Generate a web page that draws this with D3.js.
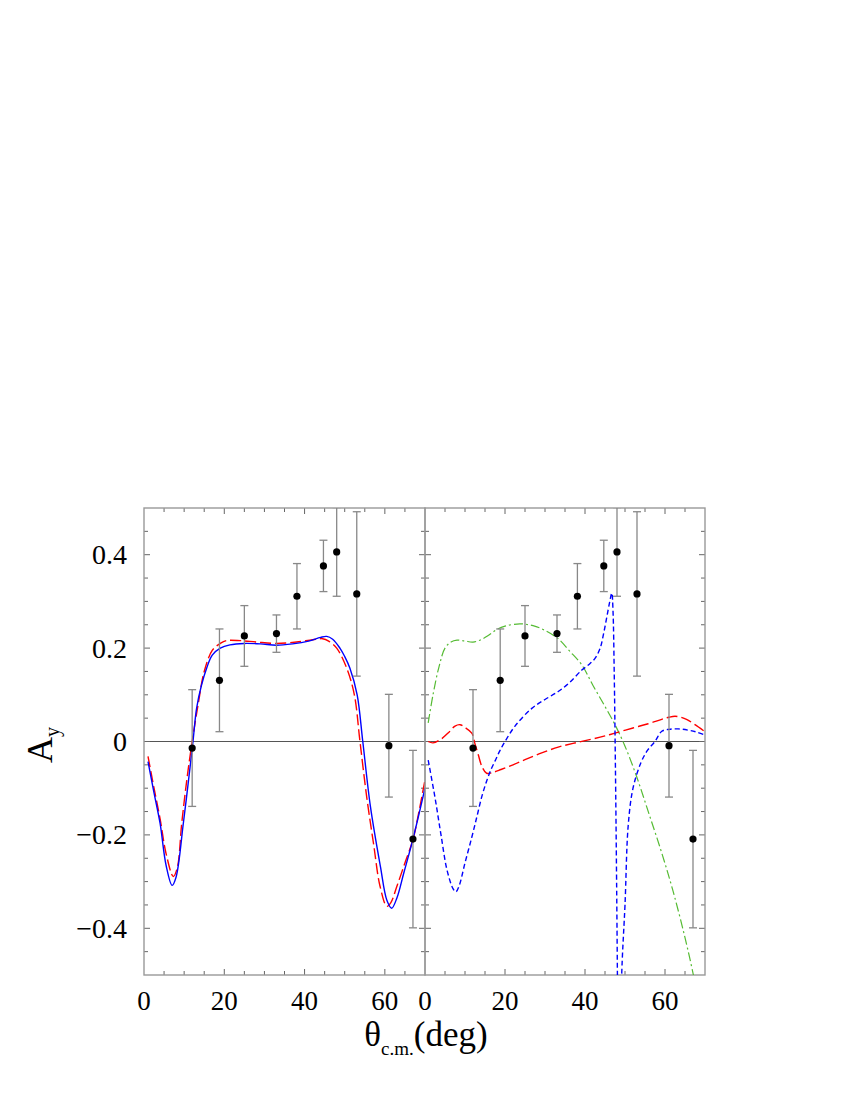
<!DOCTYPE html>
<html><head><meta charset="utf-8">
<script src="https://cdn.jsdelivr.net/npm/d3@7"></script>
<style>body{margin:0;background:#fff}svg{display:block}text{font-family:"Liberation Serif","Times New Roman",serif;fill:#000}</style>
</head><body>
<script>
// ---- data ----
const xTicks = [0, 20, 40, 60];
const yTicks = [0.4, 0.2, 0, -0.2, -0.4];
const yTickLabels = ["0.4", "0.2", "0", "\u22120.2", "\u22120.4"];

const theta = [12.0, 18.8, 25.0, 33.0, 38.1, 44.7, 48.0, 53.0, 61.0, 67.0];
const ay    = [-0.014, 0.131, 0.226, 0.231, 0.311, 0.376, 0.406, 0.316, -0.009, -0.209];
const ayErr = [0.125, 0.11, 0.065, 0.04, 0.07, 0.055, 0.095, 0.176, 0.11, 0.19];

// left panel: solid blue
const leftSolid = [[1,-0.043],[2.5,-0.11],[4,-0.175],[5.5,-0.265],[7,-0.308],[8,-0.29],[9.8,-0.175],[11,-0.09],[12.2,0],[13.1,0.071],[14.3,0.12],[15.6,0.157],[17,0.185],[19,0.2],[21.4,0.207],[25,0.21],[29,0.209],[33,0.206],[37,0.209],[41,0.215],[44,0.223],[45.5,0.225],[47,0.219],[48.8,0.2],[50,0.182],[51.3,0.157],[53.1,0.1],[54.5,0],[56.4,-0.139],[58.9,-0.268],[60.5,-0.34],[61.7,-0.357],[63,-0.335],[64.7,-0.282],[67,-0.209],[70,-0.1]];
// left panel: long dash red
const leftDash = [[1,-0.032],[2.5,-0.1],[4,-0.165],[5.5,-0.24],[7.3,-0.289],[8.3,-0.27],[9.4,-0.175],[10.7,-0.08],[12,0],[13.5,0.08],[15,0.15],[17,0.195],[19,0.21],[20.5,0.216],[24,0.216],[28,0.213],[33,0.21],[38,0.213],[42,0.218],[44.5,0.22],[46,0.215],[48,0.2],[50.5,0.157],[52.4,0.1],[53.8,0],[55.5,-0.12],[57.2,-0.22],[58.8,-0.31],[60.5,-0.353],[61.5,-0.345],[63,-0.31],[65,-0.26],[67,-0.21],[68.5,-0.15],[70,-0.082]];

// right panel: long dash red
const rightRed = [[0.8,0],[2,-0.003],[4,0.005],[6,0.02],[7.5,0.033],[8.75,0.036],[10,0.03],[11.7,0.018],[12.5,-0.005],[13.3,-0.028],[14.3,-0.055],[15.4,-0.068],[17,-0.066],[19,-0.06],[22,-0.05],[25,-0.039],[29,-0.025],[33.3,-0.012],[37,-0.004],[41.7,0.005],[45,0.012],[47.5,0.018],[52,0.029],[55.8,0.038],[59,0.047],[61,0.052],[62.5,0.054],[64,0.052],[65.5,0.047],[67.5,0.036],[70,0.021]];
// right panel: short dash blue (with a pole near 48 deg)
const rightBlueA = [[0.8,-0.04],[2.5,-0.12],[4,-0.2],[5.5,-0.275],[7,-0.315],[7.7,-0.322],[8.5,-0.31],[10,-0.26],[11.7,-0.205],[13,-0.16],[14.2,-0.118],[15.4,-0.085],[16.5,-0.06],[17.5,-0.042],[18.7,-0.02],[20,0],[22.5,0.033],[26.7,0.071],[30,0.09],[33.3,0.107],[36,0.125],[39.2,0.153],[41,0.165],[42.5,0.178],[43.8,0.2],[44.6,0.229],[45.4,0.264],[46.2,0.3],[46.7,0.318],[47.0,0.28],[47.3,0.15],[47.6,-0.05],[47.9,-0.3],[48.2,-0.6]];
const rightBlueB = [[48.8,-0.6],[49.3,-0.47],[50,-0.35],[50.8,-0.18],[52,-0.1],[54,-0.045],[55.7,-0.018],[57.5,0],[59.2,0.022],[61,0.026],[63.3,0.027],[66,0.024],[68,0.02],[70,0.014]];
// right panel: dash-dot green
const rightGreen = [[0.8,0.04],[2,0.1],[3.5,0.16],[5,0.2],[6.5,0.213],[8,0.217],[10,0.215],[12,0.213],[14,0.218],[16,0.228],[18,0.24],[20,0.247],[23.7,0.252],[27,0.248],[30,0.238],[33.3,0.22],[36,0.195],[39.2,0.164],[42,0.12],[45,0.075],[47.5,0.036],[50,-0.01],[52.9,-0.075],[56,-0.155],[59.2,-0.239],[62,-0.32],[65,-0.42],[67.1,-0.5],[68,-0.54]];

// ---- drawing ----
const W = 850, H = 1100;
const svg = d3.select("body").append("svg").attr("width", W).attr("height", H);
const y = d3.scaleLinear().domain([-0.5, 0.5]).range([975, 508]);
const xL = d3.scaleLinear().domain([0, 70]).range([144, 425]);
const xR = d3.scaleLinear().domain([0, 70]).range([425, 705]);
const frameCol = "#999";

function panel(x, id, curves, showY) {
  const g = svg.append("g");
  svg.append("clipPath").attr("id", id).append("rect")
    .attr("x", x.range()[0]).attr("y", y(0.5))
    .attr("width", x.range()[1] - x.range()[0]).attr("height", y(-0.5) - y(0.5));
  // zero line
  g.append("line").attr("x1", x(0)).attr("x2", x(70)).attr("y1", y(0)).attr("y2", y(0))
    .attr("stroke", "#555").attr("stroke-width", 1);
  // ticks: minor every 5 deg, major every 20
  const minorX = d3.range(5, 70, 5);
  minorX.forEach(v => {
    const len = (v % 20 === 0) ? 6 : 4;
    g.append("line").attr("x1", x(v)).attr("x2", x(v)).attr("y1", y(-0.5)).attr("y2", y(-0.5) - len).attr("stroke", "#666");
    g.append("line").attr("x1", x(v)).attr("x2", x(v)).attr("y1", y(0.5)).attr("y2", y(0.5) + len).attr("stroke", "#666");
  });
  const minorY = d3.range(-0.45, 0.5, 0.05).map(v => Math.round(v * 100) / 100);
  minorY.forEach(v => {
    const major = Math.abs(Math.round(v * 100) % 20) === 0;
    const len = major ? 6 : 4;
    g.append("line").attr("x1", x(0)).attr("x2", x(0) + len).attr("y1", y(v)).attr("y2", y(v)).attr("stroke", "#666");
    g.append("line").attr("x1", x(70)).attr("x2", x(70) - len).attr("y1", y(v)).attr("y2", y(v)).attr("stroke", "#666");
  });
  // frame
  g.append("rect").attr("x", x(0)).attr("y", y(0.5)).attr("width", x(70) - x(0)).attr("height", y(-0.5) - y(0.5))
    .attr("fill", "none").attr("stroke", frameCol).attr("stroke-width", 1.4);
  // x tick labels
  g.selectAll(null).data(xTicks).enter().append("text")
    .attr("x", d => x(d)).attr("y", 1010).attr("text-anchor", "middle")
    .attr("font-size", 27).text(d => d);
  if (showY) {
    g.selectAll(null).data(yTicks).enter().append("text")
      .attr("x", 127).attr("y", d => y(d) + 9.5).attr("text-anchor", "end")
      .attr("font-size", 28).text((d, i) => yTickLabels[i]);
  }
  const cg = g.append("g").attr("clip-path", `url(#${id})`);
  const line = d3.line().x(d => x(d[0])).y(d => y(d[1])).curve(d3.curveCatmullRom.alpha(0.5));
  curves.forEach(c => {
    cg.append("path").attr("d", line(c.data)).attr("fill", "none")
      .attr("stroke", c.color).attr("stroke-width", c.width || 1.4)
      .attr("stroke-dasharray", c.dash || null);
  });
  // data with error bars
  const pts = theta.map((t, i) => ({t, v: ay[i], e: ayErr[i]}));
  const eg = cg.append("g").attr("stroke", "#888").attr("stroke-width", 1.3);
  pts.forEach(p => {
    eg.append("line").attr("x1", x(p.t)).attr("x2", x(p.t)).attr("y1", y(p.v - p.e)).attr("y2", y(p.v + p.e));
    [p.v - p.e, p.v + p.e].forEach(v => {
      eg.append("line").attr("x1", x(p.t) - 4).attr("x2", x(p.t) + 4).attr("y1", y(v)).attr("y2", y(v));
    });
  });
  cg.selectAll(null).data(pts).enter().append("circle")
    .attr("cx", d => x(d.t)).attr("cy", d => y(d.v)).attr("r", 3.6).attr("fill", "#000");
}

panel(xL, "clipL", [
  {data: leftDash, color: "#ff0000", dash: "11,4"},
  {data: leftSolid, color: "#0000ff"}
], true);
panel(xR, "clipR", [
  {data: rightGreen, color: "#55bb33", dash: "9,3,2,3", width: 1.2},
  {data: rightRed, color: "#ff0000", dash: "11,4"},
  {data: rightBlueA, color: "#0000ff", dash: "5,3"},
  {data: rightBlueB, color: "#0000ff", dash: "5,3"}
], false);

// axis titles
const yl = svg.append("text").attr("transform", "translate(52,745) rotate(-90)")
  .attr("text-anchor", "middle").attr("font-size", 36);
yl.append("tspan").text("A");
yl.append("tspan").attr("font-size", 20).attr("dy", 7).text("y");

const xl = svg.append("text").attr("x", 426).attr("y", 1046).attr("text-anchor", "middle").attr("font-size", 35);
xl.append("tspan").text("\u03b8");
xl.append("tspan").attr("font-size", 19).attr("dy", 9).text("c.m.");
xl.append("tspan").attr("dy", -9).text("(deg)");
</script>
</body></html>
